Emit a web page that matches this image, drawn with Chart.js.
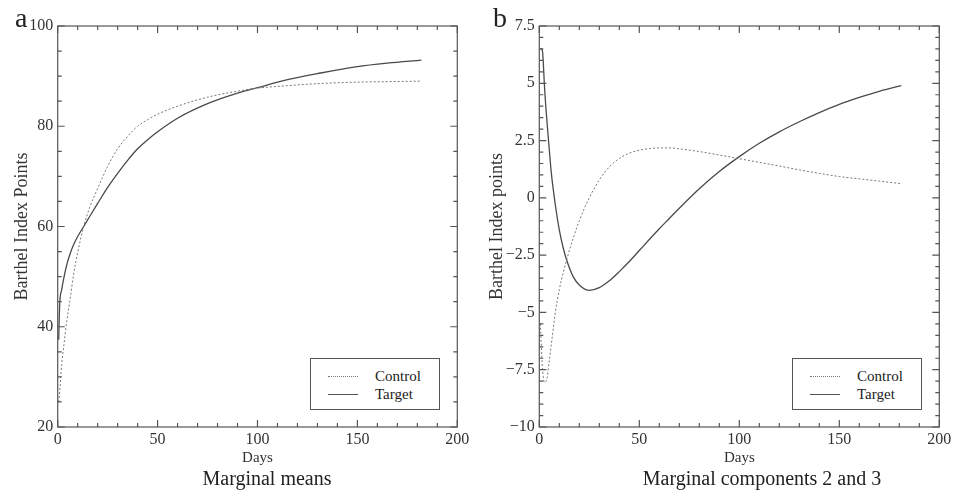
<!DOCTYPE html>
<html>
<head>
<meta charset="utf-8">
<script src="https://cdn.jsdelivr.net/npm/chart.js@4.4.1/dist/chart.umd.min.js"></script>
<style>
  body { margin: 0; background: #fff; width: 959px; height: 492px; position: relative; overflow: hidden;
         font-family: 'Liberation Serif', 'Times New Roman', serif; color: #222; }
  canvas { position: absolute; top: 0; }
  .letter { position: absolute; font-size: 28px; line-height: 28px; top: 4px; }
  .caption { position: absolute; font-size: 20px; line-height: 20px; top: 468px; transform: translateX(-50%); white-space: nowrap; }
  .legend { position: absolute; top: 358px; width: 128px; height: 50px; border: 1px solid #555; background: #fff; }
  .legend .row { position: absolute; left: 0; font-size: 15px; line-height: 16px; }
  .legend .sample { position: absolute; left: 17px; width: 30px; top: 8px; }
  .legend .name { position: absolute; left: 64px; top: 0; }
</style>
</head>
<body>
<canvas id="chartA" width="480" height="492" style="left:0"></canvas>
<canvas id="chartB" width="479" height="492" style="left:480px"></canvas>

<div class="letter" style="left:15px">a</div>
<div class="letter" style="left:493px">b</div>

<div class="caption" style="left:267px">Marginal means</div>
<div class="caption" style="left:762px">Marginal components 2 and 3</div>

<div class="legend" style="left:310px">
  <div class="row" style="top:9px"><div class="sample" style="border-top:1px dotted #777"></div><div class="name">Control</div></div>
  <div class="row" style="top:27px"><div class="sample" style="border-top:1px solid #555"></div><div class="name">Target</div></div>
</div>
<div class="legend" style="left:792px">
  <div class="row" style="top:9px"><div class="sample" style="border-top:1px dotted #777"></div><div class="name">Control</div></div>
  <div class="row" style="top:27px"><div class="sample" style="border-top:1px solid #555"></div><div class="name">Target</div></div>
</div>

<script>
// 패널 a : marginal means
const daysA = [0.5, 1, 2, 3, 4.5, 6, 8, 10, 13, 16, 20, 25, 30, 35, 40, 45, 50, 60, 75, 90, 100, 115, 130, 150, 165, 182];
const controlA = [25, 27, 32.5, 36, 41, 45, 50.5, 54.8, 60, 63.8, 67.6, 72, 75.5, 78, 80, 81.3, 82.4, 84, 85.8, 87, 87.6, 88.1, 88.5, 88.8, 88.9, 89];
const targetA = [37.4, 44.5, 47.4, 49.6, 52.3, 54.3, 56.4, 58, 60, 62, 64.6, 67.8, 70.6, 73.2, 75.5, 77.3, 78.9, 81.6, 84.5, 86.6, 87.7, 89.3, 90.5, 91.9, 92.6, 93.2];

// 패널 b : marginal components 2 and 3
const daysB = [0.5, 1.5, 2, 2.5, 3.5, 5, 6, 8, 10, 12, 14, 17, 20, 25, 30, 35, 40, 45, 50, 55, 60, 65, 70, 80, 90, 100, 110, 120, 130, 140, 150, 160, 170, 181];
const controlB = [-5.5, -7.3, -7.8, -8.05, -8.0, -7.1, -6.4, -5.0, -4.0, -3.25, -2.6, -1.75, -1.0, 0.0, 0.78, 1.35, 1.72, 1.95, 2.08, 2.15, 2.18, 2.18, 2.14, 2.02, 1.87, 1.71, 1.55, 1.39, 1.22, 1.07, 0.93, 0.83, 0.73, 0.62];
const targetB = [6.5, 6.45, 5.9, 5.0, 3.7, 2.1, 1.1, -0.3, -1.4, -2.2, -2.8, -3.45, -3.8, -4.04, -3.92, -3.62, -3.22, -2.78, -2.3, -1.82, -1.35, -0.9, -0.45, 0.4, 1.15, 1.8, 2.38, 2.88, 3.32, 3.72, 4.08, 4.38, 4.65, 4.9];

const xTicks = [0, 50, 100, 150, 200];
const seriesNames = ['Control', 'Target'];

const SERIF = "'Liberation Serif', 'Times New Roman', serif";

// 프레임 + 안쪽 눈금 (네 변 모두)
const frameTicks = {
	id: 'frameTicks',
	afterDatasetsDraw(chart, args, opts) {
		const ctx = chart.ctx;
		const a = chart.chartArea;
		const x = chart.scales.x, y = chart.scales.y;
		ctx.save();
		ctx.strokeStyle = '#555';
		ctx.lineWidth = 1.2;
		ctx.strokeRect(a.left, a.top, a.right - a.left, a.bottom - a.top);
		ctx.beginPath();
		let n = Math.round((x.max - x.min) / opts.xMinor);
		for (let i = 0; i <= n; i++) {
			const v = x.min + i * opts.xMinor;
			const px = x.getPixelForValue(v);
			const len = Math.abs(v / opts.xMajor - Math.round(v / opts.xMajor)) < 1e-6 ? 7 : 4;
			ctx.moveTo(px, a.bottom); ctx.lineTo(px, a.bottom - len);
			ctx.moveTo(px, a.top); ctx.lineTo(px, a.top + len);
		}
		n = Math.round((y.max - y.min) / opts.yMinor);
		for (let i = 0; i <= n; i++) {
			const v = y.min + i * opts.yMinor;
			const py = y.getPixelForValue(v);
			const len = Math.abs(v / opts.yMajor - Math.round(v / opts.yMajor)) < 1e-6 ? 7 : 4;
			ctx.moveTo(a.left, py); ctx.lineTo(a.left + len, py);
			ctx.moveTo(a.right, py); ctx.lineTo(a.right - len, py);
		}
		ctx.stroke();
		ctx.restore();
	}
};

function toPoints(days, vals) {
	return days.map(function(d, i) { return { x: d, y: vals[i] }; });
}

function makeChart(id, days, control, target, yOpts) {
	return new Chart(document.getElementById(id), {
		type: 'line',
		data: {
			datasets: [
				{
					label: seriesNames[0],
					data: toPoints(days, control),
					borderColor: '#777',
					borderWidth: 1,
					borderDash: [2, 2],
					pointRadius: 0,
					cubicInterpolationMode: 'monotone'
				},
				{
					label: seriesNames[1],
					data: toPoints(days, target),
					borderColor: '#4a4a4a',
					borderWidth: 1.3,
					pointRadius: 0,
					cubicInterpolationMode: 'monotone'
				}
			]
		},
		options: {
			responsive: false,
			animation: false,
			layout: { padding: { top: 26, right: yOpts.padRight, left: 0, bottom: 0 } },
			plugins: {
				legend: { display: false },
				tooltip: { enabled: false },
				frameTicks: { xMinor: 10, xMajor: 50, yMinor: yOpts.minor, yMajor: yOpts.step }
			},
			scales: {
				x: {
					type: 'linear',
					min: 0,
					max: 200,
					afterBuildTicks: function(s) { s.ticks = xTicks.map(function(v) { return { value: v }; }); },
					afterFit: function(s) { s.height = 65; },
					grid: { display: false, drawTicks: false },
					border: { display: false },
					ticks: { color: '#333', padding: 3, maxRotation: 0, font: { family: SERIF, size: 16 } },
					title: { display: true, text: 'Days', color: '#333', padding: { top: 0, bottom: 25 }, font: { family: SERIF, size: 15 } }
				},
				y: {
					type: 'linear',
					min: yOpts.min,
					max: yOpts.max,
					afterFit: function(s) { s.width = yOpts.axisWidth; },
					grid: { display: false, drawTicks: false },
					border: { display: false },
					ticks: {
						stepSize: yOpts.step,
						color: '#333',
						padding: 4.5,
						font: { family: SERIF, size: 16 },
						callback: function(v) { return v < 0 ? '\u2212' + Math.abs(v) : String(v); }
					},
					title: { display: true, text: yOpts.title, color: '#333', padding: { top: yOpts.titlePad, bottom: 0 }, font: { family: SERIF, size: 18 } }
				}
			}
		},
		plugins: [frameTicks]
	});
}

document.addEventListener('DOMContentLoaded', function() {
	makeChart('chartA', daysA, controlA, targetA,
		{ min: 20, max: 100, step: 20, minor: 5, title: 'Barthel Index Points', axisWidth: 57.7, padRight: 22.7, titlePad: 11 });
	makeChart('chartB', daysB, controlB, targetB,
		{ min: -10, max: 7.5, step: 2.5, minor: 0.5, title: 'Barthel Index points', axisWidth: 59.3, padRight: 19.7, titlePad: 6.5 });
});
</script>
</body>
</html>
